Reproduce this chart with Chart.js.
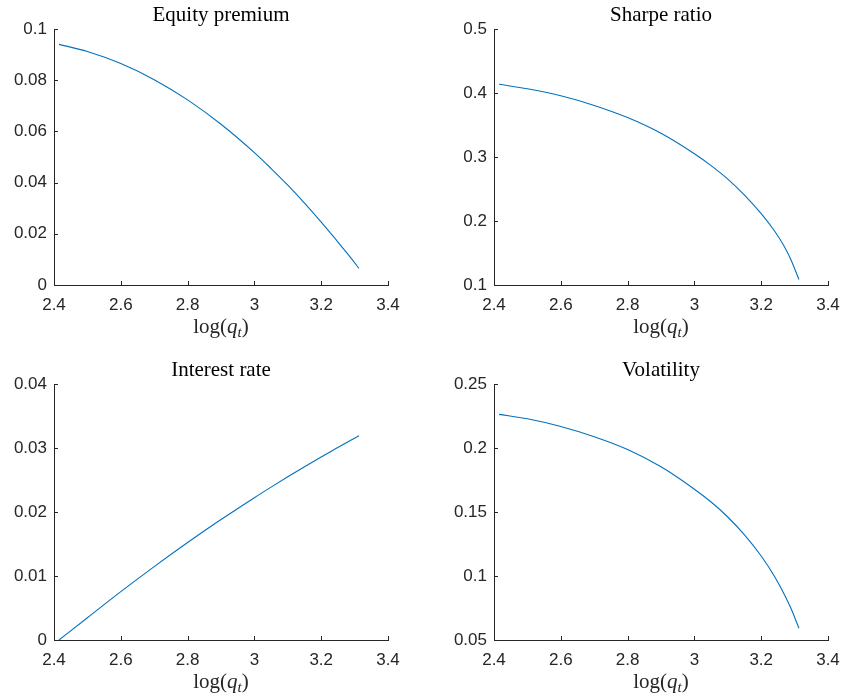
<!DOCTYPE html>
<html><head><meta charset="utf-8">
<script src="https://cdn.jsdelivr.net/npm/chart.js@4.4.1/dist/chart.umd.min.js"></script>
<style>
html,body{margin:0;padding:0;background:#fff;overflow:hidden;width:844px;height:698px}
canvas{position:absolute}
</style></head><body>
<canvas id="c1" width="422" height="343" style="left:0;top:0"></canvas>
<canvas id="c2" width="422" height="343" style="left:422px;top:0"></canvas>
<canvas id="c3" width="422" height="343" style="left:0;top:355px"></canvas>
<canvas id="c4" width="422" height="343" style="left:422px;top:355px"></canvas>
<script>
const logQ = [2.415, 2.5, 2.6, 2.7, 2.8, 2.9, 3.0, 3.05, 3.1, 3.15, 3.2, 3.24, 3.27, 3.29, 3.313];
const equityPremium = [0.094, 0.0912, 0.0865, 0.0802, 0.0723, 0.0628, 0.0517, 0.0455, 0.0390, 0.0320, 0.0246, 0.0184, 0.0136, 0.0104, 0.0065];
const sharpeRatio = [0.4136, 0.4066, 0.3956, 0.3806, 0.3616, 0.337, 0.305, 0.2865, 0.2655, 0.2405, 0.2115, 0.1843, 0.1594, 0.1384, 0.1085];
const interestRate = [0, 0.00347, 0.00755, 0.01147, 0.01523, 0.01882, 0.02224, 0.02389, 0.0255, 0.02707, 0.0286, 0.02979, 0.03067, 0.03125, 0.0319];
const volatility = [0.2263, 0.2228, 0.2168, 0.2088, 0.1988, 0.1853, 0.1678, 0.1578, 0.1461, 0.1321, 0.1156, 0.0996, 0.0852, 0.0742, 0.0592];
const xTicks = [2.4, 2.6, 2.8, 3.0, 3.2, 3.4];
const yTicksEquity = [0, 0.02, 0.04, 0.06, 0.08, 0.1];
const yTicksSharpe = [0.1, 0.2, 0.3, 0.4, 0.5];
const yTicksInterest = [0, 0.01, 0.02, 0.03, 0.04];
const yTicksVol = [0.05, 0.1, 0.15, 0.2, 0.25];
const titles = ['Equity premium', 'Sharpe ratio', 'Interest rate', 'Volatility'];
const xLabelParts = ['log(', 'q', 't', ')'];

const AXIS = '#262626';
const LINE = '#0072BD';
const fmt = v => String(+v.toFixed(4));

const tickPlugin = {
  id: 'inTicks',
  afterDraw(chart) {
    const ctx = chart.ctx, a = chart.chartArea;
    const xs = chart.scales.x, ys = chart.scales.y;
    ctx.save();
    ctx.strokeStyle = AXIS; ctx.lineWidth = 1;
    ctx.beginPath();
    xs.ticks.forEach(t => {
      const px = Math.round(xs.getPixelForValue(t.value)) + 0.5;
      ctx.moveTo(px, Math.round(a.bottom)); ctx.lineTo(px, Math.round(a.bottom) - 4);
    });
    ys.ticks.forEach(t => {
      const py = Math.round(ys.getPixelForValue(t.value)) + 0.5;
      ctx.moveTo(Math.round(a.left), py); ctx.lineTo(Math.round(a.left) + 4, py);
    });
    ctx.stroke();
    // x-axis label log(q_t)
    const cx = (a.left + a.right) / 2, by = a.bottom + 48;
    const fN = '21px "Liberation Serif"', fI = 'italic 21px "Liberation Serif"', fS = 'italic 15px "Liberation Serif"';
    ctx.fillStyle = AXIS; ctx.textBaseline = 'alphabetic'; ctx.textAlign = 'left';
    const parts = [[xLabelParts[0], fN, 0], [xLabelParts[1], fI, 0], [xLabelParts[2], fS, 4], [xLabelParts[3], fN, 0]];
    let w = 0;
    parts.forEach(p => { ctx.font = p[1]; p.push(ctx.measureText(p[0]).width); w += p[3]; });
    let x = cx - w / 2;
    parts.forEach(p => { ctx.font = p[1]; ctx.fillText(p[0], x, by + p[2]); x += p[3]; });
    ctx.restore();
  }
};

function makeChart(id, title, values, yTicks, yWidth, padRight) {
  new Chart(document.getElementById(id), {
    type: 'line',
    data: {
      datasets: [{
        data: logQ.map((x, i) => ({ x: x, y: values[i] })),
        borderColor: LINE, borderWidth: 1.1, pointRadius: 0,
        cubicInterpolationMode: 'monotone', fill: false
      }]
    },
    options: {
      responsive: false, animation: false,
      layout: { padding: { left: 0, right: padRight, top: 0, bottom: 0 } },
      plugins: {
        legend: { display: false }, tooltip: { enabled: false },
        title: {
          display: true, text: title, color: '#000', fullSize: false,
          font: { family: 'Liberation Serif', size: 21, weight: 'normal', lineHeight: 1.0 },
          padding: { top: 5, bottom: 3 }
        }
      },
      scales: {
        x: {
          type: 'linear', min: xTicks[0], max: xTicks[xTicks.length - 1],
          afterBuildTicks: s => { s.ticks = xTicks.map(v => ({ value: v })); },
          afterFit: s => { s.height = 58; },
          grid: { display: false, drawTicks: false },
          border: { display: true, color: AXIS, width: 1 },
          ticks: { color: AXIS, padding: 0, maxRotation: 0, autoSkip: false,
                   font: { family: 'Liberation Sans', size: 17, lineHeight: 2.4 }, callback: v => fmt(v) }
        },
        y: {
          type: 'linear', min: yTicks[0], max: yTicks[yTicks.length - 1],
          afterBuildTicks: s => { s.ticks = yTicks.map(v => ({ value: v })); },
          afterFit: s => { s.width = yWidth; },
          grid: { display: false, drawTicks: false },
          border: { display: true, color: AXIS, width: 1 },
          ticks: { color: AXIS, padding: 7, autoSkip: false,
                   font: { family: 'Liberation Sans', size: 17 }, callback: v => fmt(v) }
        }
      }
    },
    plugins: [tickPlugin]
  });
}

makeChart('c1', titles[0], equityPremium, yTicksEquity, 54, 34);
makeChart('c2', titles[1], sharpeRatio, yTicksSharpe, 72, 16);
makeChart('c3', titles[2], interestRate, yTicksInterest, 54, 34);
makeChart('c4', titles[3], volatility, yTicksVol, 72, 16);
</script>
</body></html>
